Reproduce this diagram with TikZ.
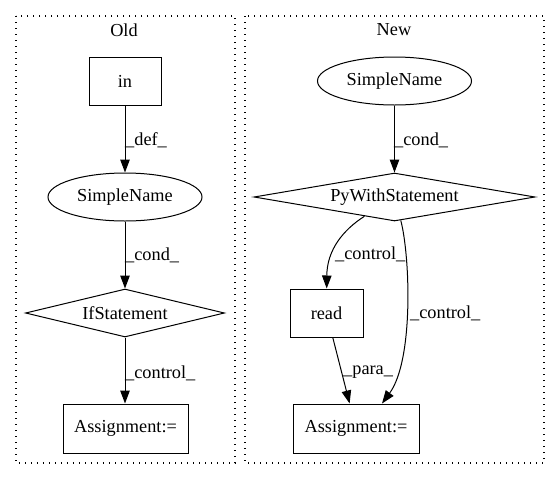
\documentclass[tikz,border=0pt]{standalone}
\usepackage{fontspec}
\setmainfont{Liberation Serif}
\usetikzlibrary{shapes.geometric,arrows.meta}
\begin{document}
\begin{tikzpicture}[x=1pt,y=-1pt,
  every node/.style={font=\fontsize{18.3}{22}\selectfont},
  box/.style={draw,line width=1pt,rectangle,inner sep=0pt},
  oval/.style={draw,line width=1pt,ellipse,inner sep=0pt,minimum width=154pt,minimum height=48pt},
  dia/.style={draw,line width=1pt,diamond,inner sep=0pt},
  edge/.style={line width=1pt,-{Triangle[length=13pt,width=9.5pt]}},
  lbl/.style={anchor=west,inner sep=0pt},
  cluster/.style={line width=1.3pt,dash pattern=on 1.3pt off 4.7pt}]
\useasboundingbox (0,0) rectangle (560,480);
% clusters
\draw[cluster] (16,16) rectangle (235,463);
\draw[cluster] (245,16) rectangle (544,463);
\node (tOld) at (124,30) {Old};
\node (tNew) at (394,30) {New};
% Old
\node[box,minimum width=72pt,minimum height=48pt] (in) at (125,81) {in};
\node[oval] (sn1) at (125,197) {SimpleName};
\node[dia,aspect=4.15,minimum width=199pt,minimum height=48pt] (if) at (125,313) {IfStatement};
\node[box,minimum width=125pt,minimum height=49pt] (as1) at (125.5,428.5) {Assignment:=};
\draw[edge] (in) -- (sn1);
\draw[edge] (sn1) -- (if);
\draw[edge] (if) -- (as1.north -| if.south);
\node[lbl] (l1) at (125,140) {\_def\_};
\node[lbl] (l2) at (125,255) {\_cond\_};
\node[lbl] (l3) at (125,373) {\_control\_};
% New
\node[oval] (sn2) at (394.5,81) {SimpleName};
\node[dia,aspect=5.85,minimum width=281pt,minimum height=48pt] (pw) at (394.5,197) {PyWithStatement};
\node[box,minimum width=73pt,minimum height=48pt] (rd) at (326.5,313) {read};
\node[box,minimum width=126pt,minimum height=49pt] (as2) at (356,428.5) {Assignment:=};
\draw[edge] (sn2) -- (pw);
\draw[edge] (pw) .. controls (343,230) and (327,250) .. (rd);
\draw[edge] (pw) .. controls (410,255) and (414,360) .. (as2.north -| 382,0);
\draw[edge] (rd) -- (as2);
\node[lbl] (l4) at (394,140) {\_cond\_};
\node[lbl] (l5) at (335,254) {\_control\_};
\node[lbl] (l6) at (410,313) {\_control\_};
\node[lbl] (l7) at (343,372) {\_para\_};
\end{tikzpicture}
\end{document}
